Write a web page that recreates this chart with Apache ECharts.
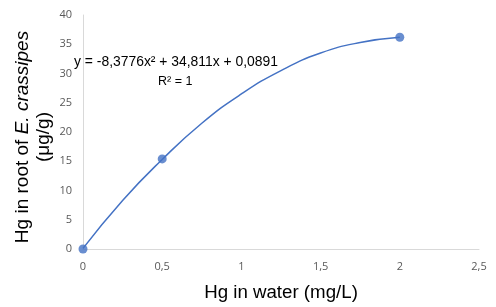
<!DOCTYPE html>
<html><head><meta charset="utf-8">
<script src="https://cdn.jsdelivr.net/npm/echarts@6/dist/echarts.min.js"></script>
<style>html,body{margin:0;padding:0;background:#fff}#c{width:496px;height:307px}</style>
</head><body><div id="c"></div>
<script>
// Measured points
const pointX = [0, 0.5, 2];
const pointY = [0, 15.4, 36.2];
// Trendline
const trendX = [0, 0.25, 0.5, 0.75, 1, 1.25, 1.5, 1.75, 2];
const trendY = [0.1, 8.3, 15.3, 21.5, 26.5, 30.5, 33.5, 35.3, 36.2];
const xTicks = ['0', '0,5', '1', '1,5', '2', '2,5'];
const equationText = 'y = -8,3776x\u00B2 + 34,811x + 0,0891';
const r2Text = 'R\u00B2 = 1';
const xTitle = 'Hg in water (mg/L)';
const yTitle = '{n|Hg in root of }{i|E. crassipes}\n{n|(\u03BCg/g)}';

const chart = echarts.init(document.getElementById('c'));
const blue = '#4472C4';
chart.setOption({
  animation: false,
  grid: {left: 83, right: 17, top: 15, bottom: 58, containLabel: false, outerBoundsMode: 'none'},
  xAxis: {
    type: 'value', min: 0, max: 2.5, interval: 0.5,
    axisLine: {lineStyle: {color: '#d9d9d9'}},
    axisTick: {show: false}, splitLine: {show: false},
    axisLabel: {color: '#595959', fontSize: 11, fontFamily: 'Open Sans', margin: 12,
      formatter: v => xTicks[Math.round(v / 0.5)]},
    name: xTitle, nameLocation: 'middle', nameGap: 34,
    nameTextStyle: {color: '#000', fontSize: 18.7, fontFamily: 'Liberation Sans'}
  },
  yAxis: {
    type: 'value', min: 0, max: 40, interval: 5,
    axisLine: {show: true, lineStyle: {color: '#d9d9d9'}},
    axisTick: {show: false}, splitLine: {show: false},
    axisLabel: {color: '#595959', fontSize: 11, fontFamily: 'Open Sans', margin: 11}
  },
  series: [
    {type: 'line', data: trendX.map((x, i) => [x, trendY[i]]), smooth: true, showSymbol: false,
     lineStyle: {color: blue, width: 1.5}, silent: true, z: 2},
    {type: 'scatter', data: pointX.map((x, i) => [x, pointY[i]]), symbolSize: 9,
     itemStyle: {color: blue}, z: 3}
  ],
  graphic: [
    {type: 'text', x: 33, y: 137, rotation: Math.PI / 2,
     style: {text: yTitle, align: 'center', verticalAlign: 'middle',
       rich: {
         n: {fontSize: 19, fontFamily: 'Liberation Sans', fill: '#000', lineHeight: 21},
         i: {fontSize: 19, fontFamily: 'Liberation Sans', fontStyle: 'italic', fill: '#000', lineHeight: 21}
       }}},
    {type: 'text', left: 74, top: 55, style: {text: equationText, fontSize: 13.9, fontFamily: 'Liberation Sans', fill: '#000'}},
    {type: 'text', left: 158, top: 75, style: {text: r2Text, fontSize: 12.5, fontFamily: 'Liberation Sans', fill: '#000'}}
  ]
});
</script></body></html>
